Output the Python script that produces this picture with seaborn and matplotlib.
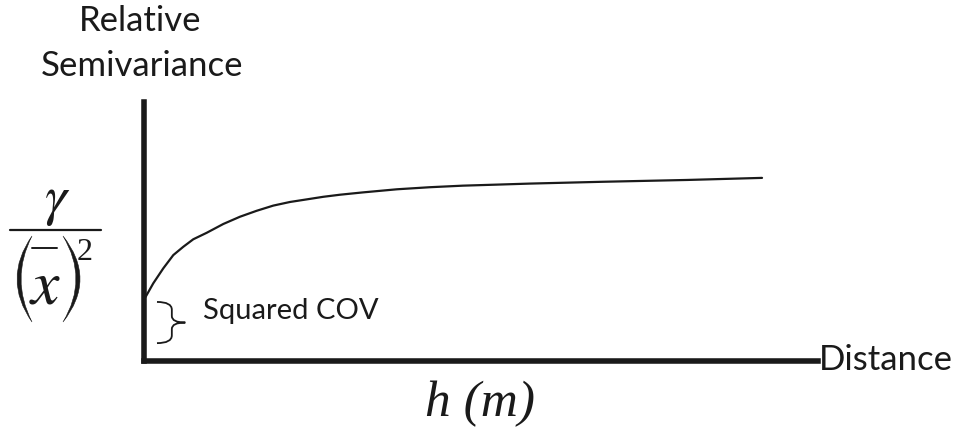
import numpy as np
import pandas as pd
import matplotlib
matplotlib.use("Agg")
import matplotlib.pyplot as plt
from matplotlib.path import Path
from matplotlib.patches import PathPatch
from matplotlib.lines import Line2D
import seaborn as sns

# Relative semivariogram: lag distance vs. relative semivariance
distance = [0.3, 1.45, 2.94, 4.42, 5.90, 7.38, 9.37, 11.83, 14.30, 16.78, 19.24,
            21.72, 24.20, 26.66, 29.13, 32.54, 37.58, 42.48, 47.36, 52.4, 57.3,
            68.1, 80.6, 91.7]
semivariance = [24.7, 30.0, 35.8, 40.9, 44.1, 47.0, 49.5, 52.9, 55.7, 58.0, 60.0,
                61.4, 62.4, 63.4, 64.2, 65.1, 66.3, 67.1, 67.7, 68.1, 68.5,
                69.2, 69.9, 70.7]

# Brace span marking the nugget (squared coefficient of variation)
nugget_top = 22.8
nugget_bottom = 6.9

sns.set_theme(style="white")
plt.rcParams["font.family"] = ["Lato", "DejaVu Sans"]

W, H = 954, 434
fig = plt.figure(figsize=(W / 100, H / 100), dpi=100)
ax = fig.add_axes([143.5 / W, 1 - 361 / H, (818 - 143.5) / W, (361 - 102) / H])

df = pd.DataFrame({"h": distance, "g": semivariance})
sns.lineplot(data=df, x="h", y="g", ax=ax, color="#1a1a1a", lw=1.6)

ax.set_xlim(0, 100)
ax.set_ylim(0, 100)
ax.set_xticks([])
ax.set_yticks([])
ax.set_xlabel("")
ax.set_ylabel("")
for side in ["top", "right"]:
    ax.spines[side].set_visible(False)
for side in ["left", "bottom"]:
    ax.spines[side].set_visible(True)
    ax.spines[side].set_linewidth(4.0)
    ax.spines[side].set_color("#1a1a1a")

# brace "}" beside the intercept
mid = (nugget_top + nugget_bottom) / 2
x0, xv, xt = 2.0, 4.2, 6.2
verts = [
    (x0, nugget_top), (xv, nugget_top), (xv, nugget_top - 3.0),
    (xv, mid + 2.5),
    (xv, mid), (xt, mid),
    (xv, mid), (xv, mid - 2.5),
    (xv, nugget_bottom + 3.0),
    (xv, nugget_bottom), (x0, nugget_bottom),
]
codes = [
    Path.MOVETO, Path.CURVE3, Path.CURVE3,
    Path.LINETO,
    Path.CURVE3, Path.CURVE3,
    Path.CURVE3, Path.CURVE3,
    Path.LINETO,
    Path.CURVE3, Path.CURVE3,
]
ax.add_patch(PathPatch(Path(verts, codes), facecolor="none",
                       edgecolor="#1a1a1a", lw=1.3, clip_on=False))

ax.text(8.8, 19.4, "Squared COV", fontsize=21, color="#1a1a1a",
        va="center", ha="left")


def fx(px):
    return px / W


def fy(py):
    return 1 - py / H


txt = "#1a1a1a"
fig.text(fx(819), fy(360), "Distance", fontsize=25, color=txt, va="center", ha="left")
fig.text(fx(140), fy(21), "Relative", fontsize=25, color=txt, va="center", ha="center")
fig.text(fx(142), fy(66), "Semivariance", fontsize=25, color=txt, va="center", ha="center")

fig.text(fx(480), fy(404), "h (m)", fontsize=37, color=txt, va="center", ha="center",
         family="Liberation Serif", style="italic")

# y-axis quantity: gamma over the squared mean
fig.text(fx(57), fy(202), r"$\gamma$", fontsize=40, color=txt, va="center", ha="center",
         math_fontfamily="stix")
fig.add_artist(Line2D([fx(10), fx(101)], [fy(230), fy(230)], color=txt, lw=1.6))


def paren(x_tip, x_ctrl_out, x_ctrl_in, y_top, y_bot):
    """Tall filled parenthesis built from two quadratic curves."""
    ym = (y_top + y_bot) / 2
    v = [(x_tip, y_top), (x_ctrl_out, ym), (x_tip, y_bot),
         (x_ctrl_in, ym), (x_tip, y_top), (x_tip, y_top)]
    c = [Path.MOVETO, Path.CURVE3, Path.CURVE3, Path.CURVE3, Path.CURVE3,
         Path.CLOSEPOLY]
    v = [(fx(a), fy(b)) for a, b in v]
    fig.add_artist(PathPatch(Path(v, c), facecolor=txt, edgecolor=txt, lw=0.4,
                             transform=fig.transFigure))


paren(32, 2, 10, 236, 322)
paren(63, 97, 89, 236, 322)

fig.text(fx(45), fy(286), r"$x$", fontsize=46, color=txt, va="center", ha="center",
         math_fontfamily="stix")
fig.add_artist(Line2D([fx(32), fx(57)], [fy(248), fy(248)], color=txt, lw=1.4))
fig.text(fx(85), fy(252), "2", fontsize=23, color=txt, va="center", ha="center",
         family="Liberation Serif")

fig.savefig("out.png", dpi=100, facecolor="white")
